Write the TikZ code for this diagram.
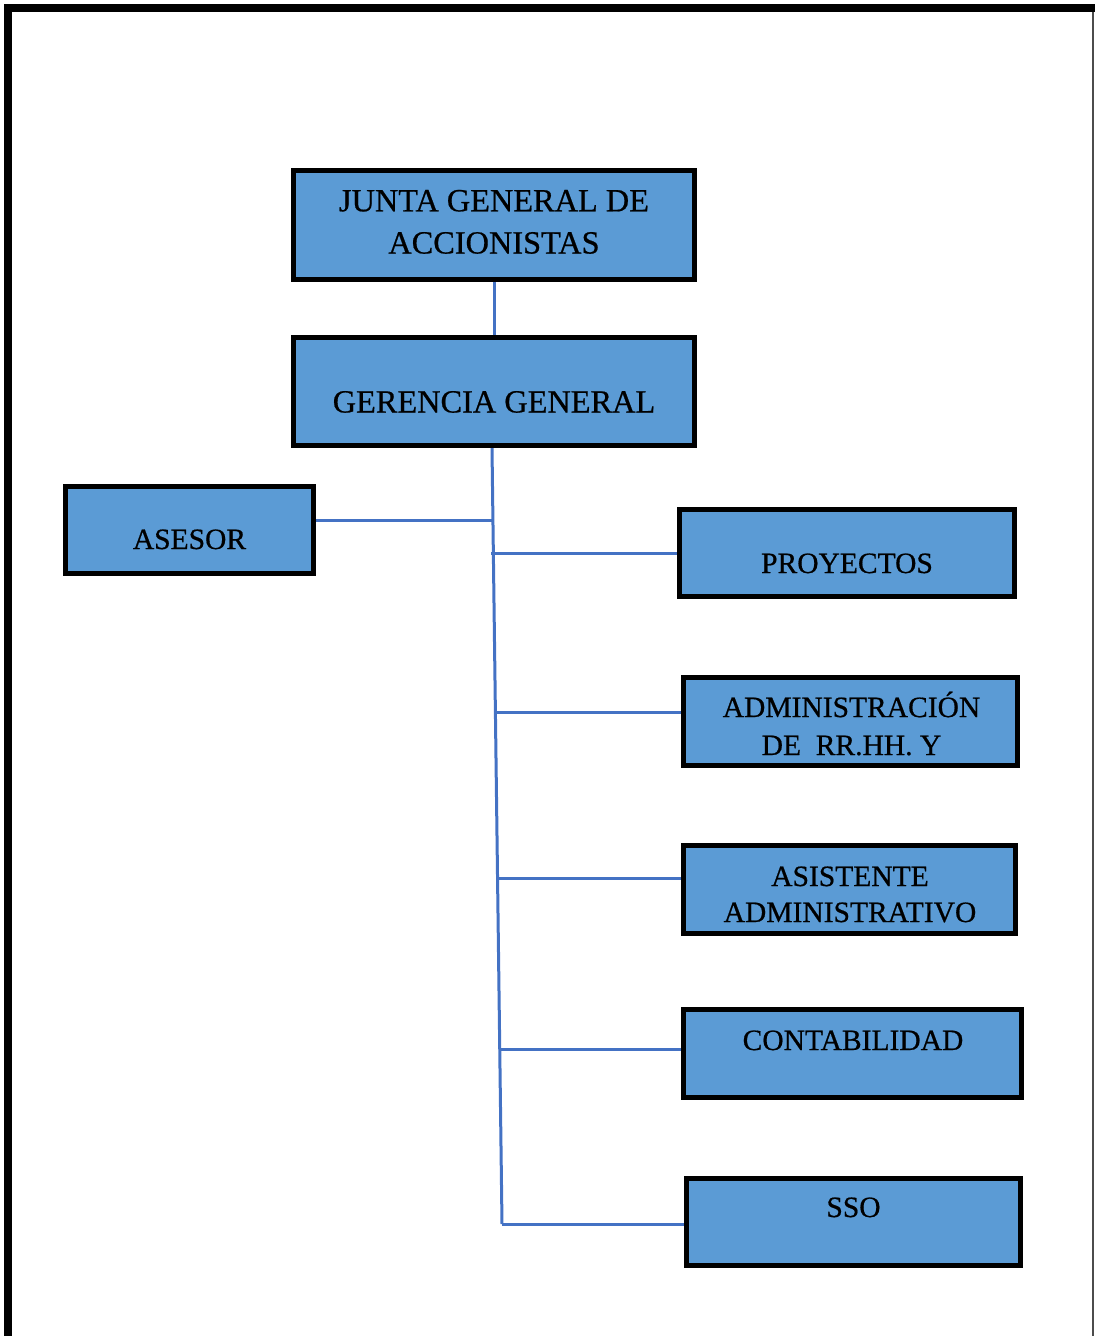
\documentclass[tikz,border=0pt]{standalone}
\usepackage{fontspec}
\setmainfont{Liberation Serif}
\newfontfamily\boxfont[FakeBold=0.6]{Liberation Serif}
\usetikzlibrary{positioning, backgrounds}
\definecolor{boxblue}{RGB}{91,155,213}
\definecolor{linkblue}{RGB}{68,114,196}
\newcommand{\unitpx}{0.025cm}

\begin{document}
\begin{tikzpicture}[
    x=\unitpx, y=-\unitpx,
    box/.style={draw=black, fill=boxblue, line width=5*\unitpx, inner sep=0pt},
    txt/.style={font=\boxfont\fontsize{21}{27}\selectfont, align=center, anchor=base},
    bigtxt/.style={txt, font=\boxfont\fontsize{23}{30}\selectfont},
    link/.style={draw=linkblue, line width=3*\unitpx}
]
\useasboundingbox (0,0) rectangle (1095,1336);

% frame
\draw[line width=8*\unitpx] (8,1336) -- (8,8) -- (1095,8);
\draw[line width=1.5*\unitpx, black!70] (1093,12) -- (1093,1336);

% boxes
\node[box, minimum width=401*\unitpx, minimum height=109*\unitpx] (junta) at (494,225) {};
\node[box, minimum width=401*\unitpx, minimum height=108*\unitpx] (gerencia) at (494,391.5) {};
\node[box, minimum width=248*\unitpx, minimum height=87*\unitpx] (asesor) at (189.5,530) {};
\node[box, minimum width=335*\unitpx, minimum height=87*\unitpx] (proyectos) at (847,553) {};
\node[box, minimum width=334*\unitpx, minimum height=88*\unitpx] (rrhh) at (850.5,721.5) {};
\node[box, minimum width=332*\unitpx, minimum height=88*\unitpx] (asistente) at (849.5,889.5) {};
\node[box, minimum width=338*\unitpx, minimum height=88*\unitpx] (conta) at (852.5,1053.5) {};
\node[box, minimum width=334*\unitpx, minimum height=87*\unitpx] (sso) at (853.5,1222) {};

% texts (base = last line)
\node[bigtxt] (junta-t) at (494,253.5) {JUNTA GENERAL DE\\ACCIONISTAS};
\node[bigtxt] (gerencia-t) at (494,412.5) {GERENCIA GENERAL};
\node[txt] (asesor-t) at (189.5,549) {ASESOR};
\node[txt] (proyectos-t) at (847,573) {PROYECTOS};
\node[txt] (rrhh-t) at (851.5,755) {ADMINISTRACIÓN\\DE\ \ RR.HH. Y};
\node[txt, font=\boxfont\fontsize{21}{25.6}\selectfont] (asistente-t) at (850,922) {ASISTENTE\\ADMINISTRATIVO};
\node[txt] (conta-t) at (853,1050) {CONTABILIDAD};
\node[txt] (sso-t) at (853.5,1217) {SSO};

% connectors
\begin{scope}[on background layer]
\coordinate (b1) at (492,520);
\coordinate (b2) at (491,553);
\coordinate (b3) at (497,712);
\coordinate (b4) at (499,878);
\coordinate (b5) at (500,1049);
\coordinate (b6) at (502,1224);
\draw[link] (junta.south) -- (gerencia.north);
\draw[link] ([xshift=-2*\unitpx]gerencia.south) -- (b6);
\draw[link] (b1) -- (b1 -| asesor.east);
\draw[link] (b2) -- (b2 -| proyectos.west);
\draw[link] (b3) -- (b3 -| rrhh.west);
\draw[link] (b4) -- (b4 -| asistente.west);
\draw[link] (b5) -- (b5 -| conta.west);
\draw[link] (b6) -- (b6 -| sso.west);
\end{scope}
\end{tikzpicture}
\end{document}
